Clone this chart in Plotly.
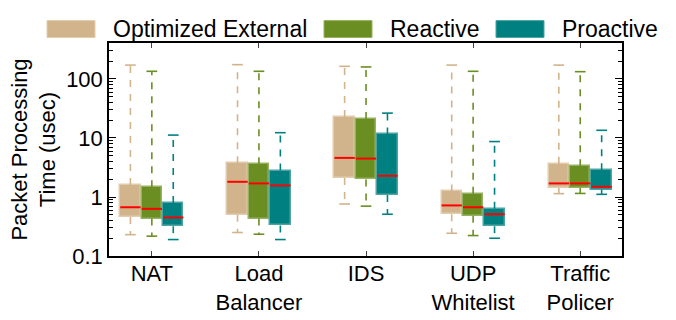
import numpy as np
import plotly.graph_objects as go

categories = ["NAT", "Load<br>Balancer", "IDS", "UDP<br>Whitelist", "Traffic<br>Policer"]
series = ["Optimized External", "Reactive", "Proactive"]

opt_lower = [0.23, 0.25, 0.76, 0.243, 1.14]
opt_q1 = [0.46, 0.50, 2.09, 0.51, 1.42]
opt_med = [0.67, 1.81, 4.6, 0.72, 1.70]
opt_q3 = [1.6, 3.74, 22.6, 1.24, 3.65]
opt_upper = [172, 175, 164, 172, 172]

react_lower = [0.217, 0.234, 0.70, 0.222, 1.15]
react_q1 = [0.43, 0.43, 1.98, 0.48, 1.43]
react_med = [0.63, 1.70, 4.48, 0.67, 1.70]
react_q3 = [1.47, 3.6, 20.9, 1.14, 3.33]
react_upper = [135, 135, 160, 135, 133]

pro_lower = [0.19, 0.19, 0.51, 0.20, 1.11]
pro_q1 = [0.32, 0.33, 1.08, 0.32, 1.33]
pro_med = [0.45, 1.57, 2.29, 0.51, 1.49]
pro_q3 = [0.79, 2.81, 11.5, 0.63, 2.85]
pro_upper = [11.2, 12.3, 26.4, 8.7, 13.5]

stats = [
    (opt_lower, opt_q1, opt_med, opt_q3, opt_upper),
    (react_lower, react_q1, react_med, react_q3, react_upper),
    (pro_lower, pro_q1, pro_med, pro_q3, pro_upper),
]
fills = ["#D2B48C", "#6B8E23", "#008080"]
edges = ["#E2CCAE", "#97B163", "#4FA3A3"]
offsets = [-0.2, 0.0, 0.2]
box_w = 0.19
cap_w = 0.1
FONT = "Liberation Sans, Arial, sans-serif"

fig = go.Figure()
base_x = np.arange(len(categories), dtype=float)

for (lo, q1, med, q3, up), fc, ec, off, name in zip(stats, fills, edges, offsets, series):
    xs = base_x + off
    q1a, q3a = np.array(q1), np.array(q3)
    # whiskers (dashed)
    wx, wy = [], []
    for x, a, b, c, d in zip(xs, lo, q1, q3, up):
        wx += [x, x, None, x, x, None]
        wy += [c, d, None, b, a, None]
    fig.add_trace(go.Scatter(x=wx, y=wy, mode="lines", line=dict(color=fc, width=1.6, dash="7px,7px"),
                             showlegend=False, hoverinfo="skip"))
    # caps
    cx, cy = [], []
    for x, a, d in zip(xs, lo, up):
        cx += [x - cap_w / 2, x + cap_w / 2, None, x - cap_w / 2, x + cap_w / 2, None]
        cy += [a, a, None, d, d, None]
    fig.add_trace(go.Scatter(x=cx, y=cy, mode="lines", line=dict(color=fc, width=1.6),
                             showlegend=False, hoverinfo="skip"))
    # boxes
    fig.add_trace(go.Bar(x=xs, y=q3a - q1a, base=q1a, width=box_w, name=name,
                         marker=dict(color=fc, line=dict(color=ec, width=1.5)), showlegend=False))
    # medians
    mx, my = [], []
    for x, m in zip(xs, med):
        mx += [x - box_w / 2, x + box_w / 2, None]
        my += [m, m, None]
    fig.add_trace(go.Scatter(x=mx, y=my, mode="lines", line=dict(color="#FF0000", width=2),
                             showlegend=False, hoverinfo="skip"))

# custom legend
L, R, T, B = 109, 622, 42.5, 256.5
W, H = R - L, B - T
def px(x):
    return (x - L) / W
def py(y):
    return (B - y) / H

patch_x = [47, 324, 496]
text_x = [112, 389, 561]
for name, fc, ec, pxl, tx in zip(series, fills, edges, patch_x, text_x):
    fig.add_shape(type="rect", xref="paper", yref="paper", x0=px(pxl), x1=px(pxl + 48),
                  y0=py(37), y1=py(20), fillcolor=fc, line=dict(color=ec, width=1), layer="above")
    fig.add_annotation(xref="paper", yref="paper", x=px(tx), y=py(28.5), text=name, showarrow=False,
                       xanchor="left", yanchor="middle", borderpad=0,
                       font=dict(size=23, color="black", family=FONT))

minor_vals = [v * 10.0 ** k for k in range(-1, 3) for v in range(2, 10) if v * 10.0 ** k < 400]

fig.update_layout(
    width=676, height=320,
    margin=dict(l=L, r=676 - R, t=T, b=320 - B, autoexpand=False),
    paper_bgcolor="white", plot_bgcolor="white",
    font=dict(family=FONT, size=22, color="black"),
    barmode="overlay", bargap=0,
    showlegend=False,
    xaxis=dict(range=[-0.4, 4.39], tickmode="array", tickvals=list(base_x), ticktext=categories,
               ticks="inside", ticklen=5, tickwidth=1, tickcolor="#444", showline=True, linecolor="black",
               linewidth=1.5, mirror="ticks", showgrid=False, zeroline=False, automargin=False,
               ticklabelstandoff=-3, tickfont=dict(size=22, family=FONT)),
    yaxis=dict(type="log", range=[-1, 2.61], tickmode="array", tickvals=[0.1, 1, 10, 100],
               ticktext=["0.1", "1", "10", "100"], ticks="inside", ticklen=7, tickwidth=1, tickcolor="black",
               showline=True, linecolor="black", linewidth=1.5, mirror="ticks", showgrid=False,
               zeroline=False, automargin=False, tickfont=dict(size=22, family=FONT),
               minor=dict(tickmode="array", tickvals=minor_vals, ticks="inside", ticklen=4, tickwidth=1,
                          tickcolor="black", showgrid=False),
               title=dict(text="Packet Processing<br>Time (usec)", standoff=4,
                          font=dict(size=22, family=FONT))),
)

fig.write_html("out.html", config={"displayModeBar": False},
               post_script="document.body.style.margin='0';")
